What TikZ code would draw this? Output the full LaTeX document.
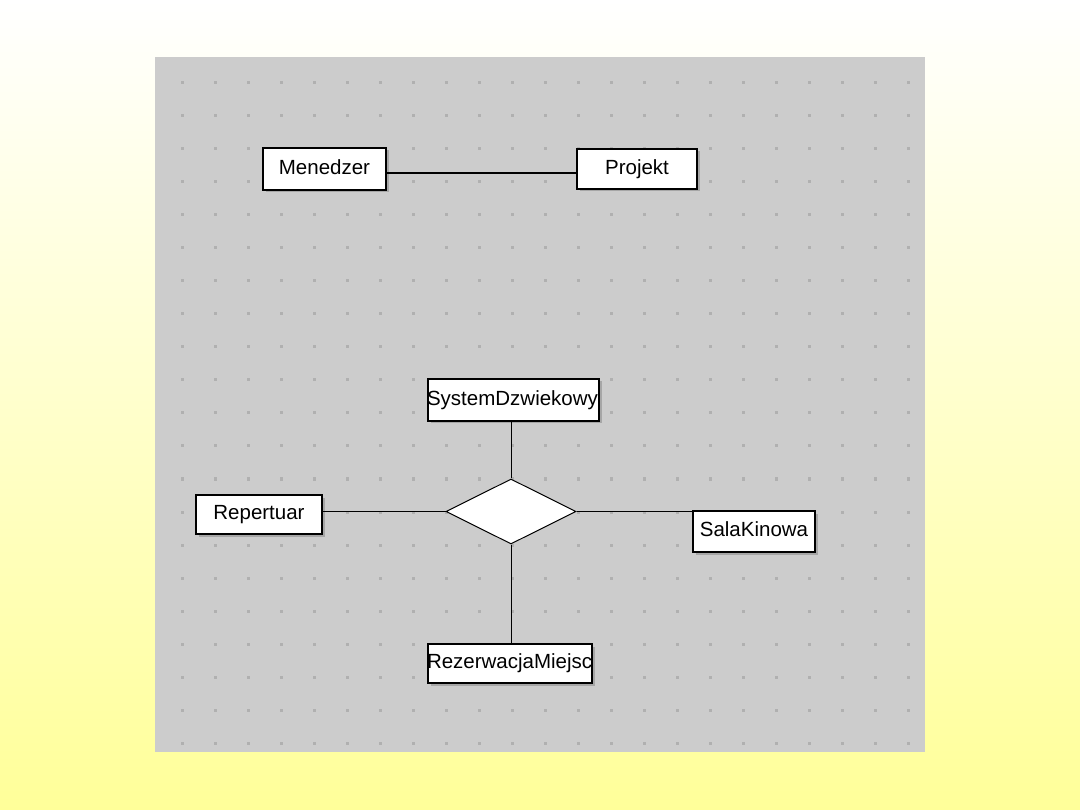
\documentclass[tikz,border=0pt]{standalone}
\usepackage{fontspec}
\setmainfont{Liberation Sans}
\usetikzlibrary{shapes.geometric,shadows}
\definecolor{panel}{RGB}{204,204,204}
\definecolor{dotc}{RGB}{176,176,176}
\definecolor{bgyellow}{RGB}{255,255,153}
\newcommand{\efont}{\fontsize{20.5}{24}\selectfont}
\begin{document}
\begin{tikzpicture}[x=1pt,y=-1pt,
  entity/.style={draw=black, line width=2pt, fill=white, rectangle, inner sep=0pt,
    font=\efont, text height=14.5pt, text depth=4pt,
    drop shadow={shadow xshift=2.5pt, shadow yshift=-2.5pt, fill=black!35, opacity=1}},
  cliptext/.style={path picture={\node[anchor=west, inner sep=0pt, font=\efont]
    at ([xshift=-2pt]path picture bounding box.west) {#1};}},
  relation/.style={draw=black, line width=1pt, fill=white, diamond, aspect=2, inner sep=0pt},
  thinlink/.style={line width=1pt, draw=black},
  thicklink/.style={line width=2pt, draw=black}]
\useasboundingbox (0,0) rectangle (1080,810);
\shade[top color=white, bottom color=bgyellow] (0,0) rectangle (1080,810);
\fill[panel] (155,57) rectangle (925,752);
\foreach \i in {0,...,22}
  \foreach \j in {0,...,20}
    \fill[dotc] (180.5+33*\i, 81.5+33*\j) rectangle +(3,3);

% top pair
\node[entity, minimum width=123pt, minimum height=42pt] (men) at (324.5,169) {Menedzer};
\node[entity, minimum width=120pt, minimum height=40pt] (proj) at (637,169) {Projekt};
\draw[thicklink] ([yshift=-4pt]men.east) -- ([yshift=-4pt]proj.west);

% relation
\node[relation, minimum width=130pt, minimum height=65pt] (dia) at (511,511.5) {};
\node[entity, minimum width=171pt, minimum height=42pt, cliptext=SystemDzwiekowy] (sys) at (513.5,400) {};
\node[entity, minimum width=126pt, minimum height=39pt] (rep) at (259,514.5) {Repertuar};
\node[entity, minimum width=122pt, minimum height=41pt] (sala) at (754,531.5) {SalaKinowa};
\node[entity, minimum width=164pt, minimum height=39pt, cliptext=RezerwacjaMiejsc] (rez) at (510,663.5) {};

\draw[thinlink] (dia.north |- sys.south) -- (dia.north);
\draw[thinlink] (dia.south) -- (dia.south |- rez.north);
\draw[thinlink] (dia.west) -- (dia.west -| rep.east);
\draw[thinlink] (dia.east) -- (dia.east -| sala.west);
\end{tikzpicture}
\end{document}
